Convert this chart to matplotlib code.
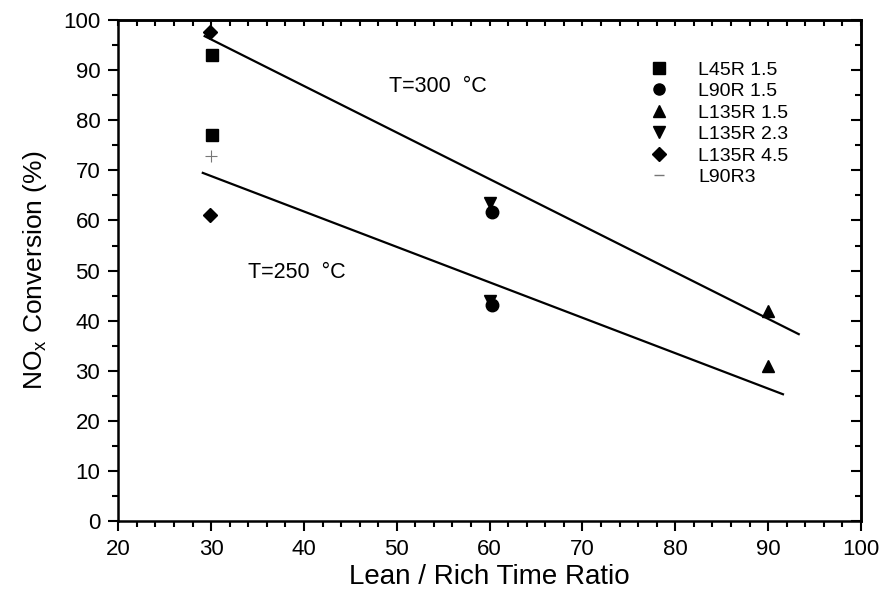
"""
NOx conversion vs lean/rich time ratio at two temperatures
"""

import matplotlib
matplotlib.use('Agg')
from matplotlib import pyplot as plt
from matplotlib.lines import Line2D
from matplotlib.ticker import MultipleLocator

plt.rcParams['font.family'] = ['Liberation Sans', 'DejaVu Sans']

# measured points, (x, y) per sample
l45r15_x = [30.1, 30.1]
l45r15_y = [93.0, 77.0]
l90r15_x = [60.3, 60.3]
l90r15_y = [61.7, 43.1]
l135r15_x = [90.0, 90.0]
l135r15_y = [42.0, 31.0]
l135r23_x = [60.0, 60.0]
l135r23_y = [63.5, 44.0]
l135r45_x = [29.9, 29.9]
l135r45_y = [97.6, 61.0]
l90r3_x = [30.0]
l90r3_y = [72.9]

# trend lines
fit300_x = [29.3, 93.3]
fit300_y = [96.8, 37.3]
fit250_x = [29.1, 91.6]
fit250_y = [69.5, 25.3]

fig = plt.figure(figsize=(8.83, 5.92), dpi=100)
ax = fig.add_axes([0.134, 0.12, 0.841, 0.846])

ax.plot(fit300_x, fit300_y, color='black', lw=1.6)
ax.plot(fit250_x, fit250_y, color='black', lw=1.6)

ms = 9
ax.plot(l45r15_x, l45r15_y, 's', color='black', ms=ms)
ax.plot(l90r15_x, l90r15_y, 'o', color='black', ms=ms)
ax.plot(l135r15_x, l135r15_y, '^', color='black', ms=ms)
ax.plot(l135r23_x, l135r23_y, 'v', color='black', ms=ms)
ax.plot(l135r45_x, l135r45_y, 'D', color='black', ms=7)
ax.plot(l90r3_x, l90r3_y, '+', color='#777777', ms=8, mew=0.8)

ax.text(49.2, 85.6, 'T=300  °C', fontsize=15.5)
ax.text(34.0, 48.6, 'T=250  °C', fontsize=15.5)

handles = [
    Line2D([], [], ls='none', marker='s', color='black', ms=8),
    Line2D([], [], ls='none', marker='o', color='black', ms=8),
    Line2D([], [], ls='none', marker='^', color='black', ms=8),
    Line2D([], [], ls='none', marker='v', color='black', ms=8),
    Line2D([], [], ls='none', marker='D', color='black', ms=7),
    Line2D([], [], ls='none', marker='_', color='#777777', ms=7),
]
labels = ['L45R 1.5', 'L90R 1.5', 'L135R 1.5', 'L135R 2.3', 'L135R 4.5', 'L90R3']
ax.legend(handles, labels, loc='upper left', bbox_to_anchor=(0.692, 0.953),
          frameon=False, fontsize=14, handletextpad=1.5, labelspacing=0.2,
          handlelength=1.0)

ax.set_xlim(20, 100)
ax.set_ylim(0, 100)
ax.xaxis.set_major_locator(MultipleLocator(10))
ax.xaxis.set_minor_locator(MultipleLocator(2))
ax.yaxis.set_major_locator(MultipleLocator(10))
ax.yaxis.set_minor_locator(MultipleLocator(5))
ax.tick_params(which='both', direction='out', top=False, right=False,
               labelsize=16, width=1.5, pad=6)
ax.tick_params(which='major', length=7)
ax.tick_params(which='minor', length=4)

# top and right get their own inward ticks
top = ax.secondary_xaxis('top')
top.xaxis.set_major_locator(MultipleLocator(2))
top.tick_params(direction='in', length=4, width=1.5, labeltop=False)
right = ax.secondary_yaxis('right')
right.yaxis.set_major_locator(MultipleLocator(10))
right.yaxis.set_minor_locator(MultipleLocator(5))
right.tick_params(which='major', direction='in', length=7, width=1.5, labelright=False)
right.tick_params(which='minor', direction='in', length=4, width=1.5)

for s in ax.spines.values():
    s.set_linewidth(1.8)
for s in list(top.spines.values()) + list(right.spines.values()):
    s.set_linewidth(1.8)

ax.set_xlabel('Lean / Rich Time Ratio', fontsize=20, labelpad=3)
ax.set_ylabel('NO$_{\\mathregular{x}}$ Conversion (%)', fontsize=19, labelpad=10)

fig.savefig('out.png', dpi=100)
